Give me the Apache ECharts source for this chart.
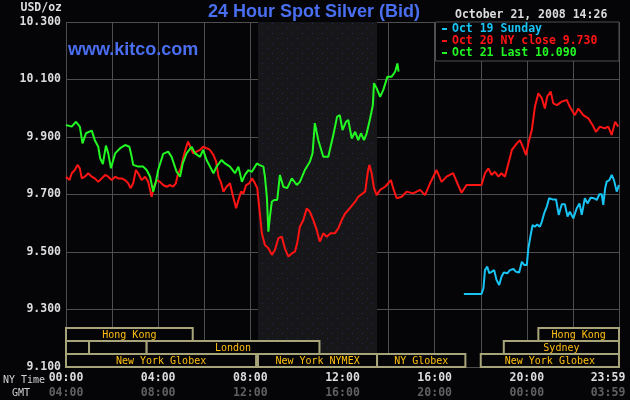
<!DOCTYPE html>
<html>
<head>
<meta charset="utf-8">
<script src="https://cdn.jsdelivr.net/npm/echarts@6/dist/echarts.min.js"></script>
<style>
  html, body { margin: 0; padding: 0; background: #050508; }
  #chart { width: 630px; height: 400px; }
</style>
</head>
<body>
<div id="chart"></div>
<script>
// times are minutes after midnight, New York time
const oct21Time = [0,15,26,36,43,52,67,75,84,89,96,104,110,117,128,141,154,165,171,175,188,201,210,219,227,234,240,253,266,275,288,297,304,314,327,336,349,357,366,375,384,392,405,414,427,440,449,458,466,475,484,497,503,514,518,523,527,531,536,542,550,557,566,576,588,601,609,622,635,642,648,657,670,683,696,706,713,720,729,735,744,753,761,768,776,783,792,799,802,809,818,826,837,848,857,863,866];
const oct21Value = [9.942,9.936,9.953,9.936,9.878,9.913,9.922,9.889,9.866,9.826,9.806,9.870,9.843,9.791,9.843,9.861,9.872,9.866,9.831,9.803,9.797,9.797,9.785,9.762,9.710,9.744,9.785,9.841,9.849,9.831,9.779,9.762,9.808,9.843,9.866,9.843,9.831,9.855,9.820,9.797,9.774,9.797,9.820,9.808,9.797,9.774,9.797,9.744,9.768,9.785,9.779,9.808,9.803,9.797,9.762,9.692,9.571,9.623,9.675,9.681,9.681,9.768,9.727,9.722,9.756,9.733,9.744,9.785,9.814,9.843,9.948,9.889,9.831,9.831,9.907,9.971,9.976,9.924,9.953,9.959,9.895,9.918,9.889,9.913,9.889,9.913,9.965,10.011,10.087,10.069,10.040,10.063,10.110,10.110,10.127,10.156,10.127];

const oct20Time = [0,9,15,23,30,36,41,49,58,67,75,84,93,102,110,119,128,136,145,154,162,168,175,182,188,197,206,214,223,229,236,245,253,262,271,279,286,292,299,305,312,318,325,331,340,349,357,366,375,384,391,397,403,410,418,427,434,443,449,456,462,469,477,485,492,498,503,510,518,527,536,544,553,562,570,579,588,596,602,609,618,627,635,644,653,661,670,679,689,700,709,718,727,735,753,761,766,779,786,790,796,802,809,818,831,839,846,852,861,874,887,904,922,935,948,965,978,991,1008,1021,1030,1043,1082,1091,1100,1108,1117,1126,1134,1143,1152,1161,1174,1182,1191,1198,1204,1213,1221,1230,1239,1247,1253,1262,1269,1278,1291,1304,1312,1325,1334,1347,1360,1371,1380,1390,1403,1412,1421,1430,1438];
const oct20Value = [9.762,9.750,9.774,9.785,9.803,9.791,9.756,9.762,9.774,9.762,9.756,9.744,9.756,9.768,9.762,9.750,9.762,9.756,9.756,9.750,9.739,9.722,9.739,9.785,9.774,9.750,9.762,9.744,9.692,9.727,9.750,9.744,9.733,9.727,9.733,9.727,9.739,9.774,9.791,9.826,9.861,9.884,9.861,9.843,9.849,9.855,9.866,9.861,9.855,9.837,9.814,9.762,9.744,9.710,9.727,9.739,9.698,9.652,9.681,9.710,9.704,9.733,9.739,9.756,9.739,9.722,9.658,9.565,9.524,9.513,9.490,9.507,9.548,9.553,9.513,9.484,9.495,9.501,9.530,9.588,9.611,9.652,9.640,9.611,9.576,9.536,9.565,9.553,9.565,9.565,9.582,9.611,9.634,9.646,9.675,9.692,9.698,9.710,9.779,9.803,9.774,9.722,9.698,9.716,9.727,9.739,9.750,9.722,9.687,9.692,9.710,9.704,9.716,9.698,9.739,9.785,9.744,9.762,9.774,9.733,9.706,9.733,9.733,9.774,9.791,9.768,9.779,9.762,9.774,9.762,9.808,9.855,9.878,9.889,9.861,9.837,9.878,9.924,10.005,10.052,10.035,9.999,10.040,10.058,10.017,10.011,10.023,10.029,10.005,9.976,9.999,9.976,9.965,9.942,9.918,9.936,9.930,9.936,9.907,9.953,9.936];

const oct19Time = [1036,1082,1087,1091,1097,1102,1108,1115,1121,1128,1134,1140,1149,1156,1165,1172,1180,1187,1193,1200,1204,1210,1215,1221,1227,1234,1239,1245,1252,1258,1267,1276,1283,1291,1299,1306,1312,1321,1330,1337,1343,1351,1358,1366,1375,1382,1389,1395,1399,1404,1408,1415,1421,1427,1434,1440];
const oct19Value = [9.354,9.354,9.374,9.437,9.449,9.426,9.431,9.437,9.403,9.385,9.414,9.429,9.426,9.437,9.441,9.431,9.429,9.466,9.455,9.455,9.513,9.559,9.594,9.588,9.596,9.588,9.605,9.634,9.658,9.687,9.683,9.683,9.629,9.666,9.666,9.623,9.640,9.617,9.652,9.669,9.629,9.687,9.669,9.689,9.687,9.681,9.701,9.701,9.664,9.722,9.745,9.750,9.768,9.750,9.710,9.733];

// trading sessions along the bottom (row 0 = lowest)
const sessionStart = [0, 1230, 0, 60, 210, 1140, 0, 500, 810, 1080];
const sessionEnd   = [330, 1440, 60, 210, 660, 1440, 495, 810, 1040, 1440];
const sessionRow   = [2, 2, 1, 1, 1, 1, 0, 0, 0, 0];
const sessionLabel = ['Hong Kong', 'Hong Kong', '', '', 'London', 'Sydney',
  'New York Globex', 'New York NYMEX', 'NY Globex', 'New York Globex'];

const nymexPit = [500, 810];
const seriesNames = ['Oct 19 Sunday', 'Oct 20 NY close 9.730', 'Oct 21 Last 10.090'];
const seriesColors = ['#18c4f4', '#ff1414', '#22f822'];

const MONO = '"DejaVu Sans Mono", monospace';
const SANS = '"Liberation Sans", Arial, sans-serif';

function zip(a, b) {
  return a.map((t, i) => [t, b[i]]);
}

function hhmm(min) {
  const h = Math.floor(min / 60) % 24;
  const m = min % 60;
  return String(h).padStart(2, '0') + ':' + String(m).padStart(2, '0');
}

// dotted fill for the NYMEX pit session
function pitPattern() {
  const c = document.createElement('canvas');
  c.width = 10; c.height = 10;
  const ctx = c.getContext('2d');
  ctx.fillStyle = '#17171a';
  ctx.fillRect(0, 0, 10, 10);
  ctx.fillStyle = '#1f2c5c';
  ctx.fillRect(2, 3, 1, 1);
  ctx.fillRect(7, 8, 1, 1);
  return c;
}

const chart = echarts.init(document.getElementById('chart'));

const lineSeries = [
  [oct19Time, oct19Value],
  [oct20Time, oct20Value],
  [oct21Time, oct21Value]
].map((pair, i) => ({
  name: seriesNames[i],
  type: 'line',
  data: zip(pair[0], pair[1]),
  showSymbol: false,
  animation: false,
  z: 3 + i,
  lineStyle: { color: seriesColors[i], width: 2 },
  itemStyle: { color: seriesColors[i] }
}));

const option = {
  backgroundColor: '#050508',
  animation: false,
  grid: { left: 66, top: 22, right: 11, bottom: 33, outerBoundsMode: 'none', containLabel: false },
  xAxis: {
    type: 'value',
    min: 0,
    max: 1440,
    interval: 120,
    axisLine: { show: false },
    axisTick: { show: false },
    splitLine: { lineStyle: { color: '#4e4e4e', width: 1 } },
    axisLabel: {
      margin: 4,
      showMaxLabel: true,
      showMinLabel: true,
      formatter: function (v) {
        if (v === 1440) return '{c|23:59}\n{d|03:59}';
        if (v % 240 !== 0) return '';
        return '{a|' + hhmm(v) + '}\n{b|' + hhmm(v + 240) + '}';
      },
      rich: {
        a: { color: '#dcdcdc', fontFamily: MONO, fontWeight: 'bold', fontSize: 11.5, lineHeight: 15 },
        b: { color: '#606060', fontFamily: MONO, fontWeight: 'bold', fontSize: 11.5, lineHeight: 15 },
        c: { color: '#dcdcdc', fontFamily: MONO, fontWeight: 'bold', fontSize: 11.5, lineHeight: 15, padding: [0, 22, 0, 0] },
        d: { color: '#606060', fontFamily: MONO, fontWeight: 'bold', fontSize: 11.5, lineHeight: 15, padding: [0, 22, 0, 0] }
      }
    }
  },
  yAxis: {
    type: 'value',
    min: 9.1,
    max: 10.3,
    interval: 0.1,
    axisLine: { show: false },
    axisTick: { show: false },
    splitLine: { lineStyle: { color: ['#4e4e4e', 'rgba(0,0,0,0)'], width: 1 } },
    axisLabel: {
      margin: 5,
      color: '#dcdcdc',
      fontFamily: MONO,
      fontWeight: 'bold',
      fontSize: 11.5,
      formatter: function (v) {
        return Math.round(v * 10) % 2 === 1 ? v.toFixed(3) : '';
      }
    }
  },
  legend: {
    data: seriesNames.map((n, i) => ({ name: n, textStyle: { color: seriesColors[i] } })),
    orient: 'vertical',
    left: 442,
    top: 23,
    padding: 0,
    itemGap: 0,
    itemWidth: 5,
    itemHeight: 2,
    icon: 'rect',
    selectedMode: false,
    z: 20,
    textStyle: { fontFamily: MONO, fontWeight: 'bold', fontSize: 11.5, lineHeight: 12 }
  },
  graphic: [
    { type: 'rect', z: 10, shape: { x: 435.5, y: 22, width: 183.5, height: 39 },
      style: { fill: '#050508', stroke: '#4e4e4e', lineWidth: 1 } },
    { type: 'text', z: 10, style: { text: 'USD/oz', x: 62, y: 8, align: 'right', verticalAlign: 'middle',
      fill: '#dcdcdc', font: 'bold 11.5px ' + MONO } },
    { type: 'text', z: 10, style: { text: '24 Hour Spot Silver (Bid)', x: 208, y: 12, verticalAlign: 'middle',
      fill: '#4a6ef0', font: 'bold 18px ' + SANS } },
    { type: 'text', z: 10, style: { text: 'October 21, 2008 14:26', x: 455, y: 15, verticalAlign: 'middle',
      fill: '#dcdcdc', font: 'bold 11.5px ' + MONO } },
    { type: 'text', z: 10, style: { text: 'www.kitco.com', x: 68, y: 50, verticalAlign: 'middle',
      fill: '#4a6ef0', font: 'bold 18px ' + SANS } },
    { type: 'text', z: 10, style: { text: 'NY Time', x: 3, y: 380, verticalAlign: 'middle',
      fill: '#d0d0d0', font: '10px ' + MONO } },
    { type: 'text', z: 10, style: { text: 'GMT', x: 12, y: 393, verticalAlign: 'middle',
      fill: '#d0d0d0', font: '10px ' + MONO } }
  ],
  series: [
    {
      name: 'nymex',
      type: 'line',
      data: [],
      z: -1,
      silent: true,
      markArea: {
        silent: true,
        itemStyle: { color: { image: pitPattern(), repeat: 'repeat' } },
        data: [[{ xAxis: nymexPit[0] }, { xAxis: nymexPit[1] }]]
      }
    },
    ...lineSeries,
    {
      name: 'sessions',
      type: 'custom',
      z: 8,
      silent: true,
      data: sessionStart.map((s, i) => [s, sessionEnd[i], sessionRow[i]]),
      renderItem: function (params, api) {
        const x0 = api.coord([api.value(0), 9.1])[0];
        const x1 = api.coord([api.value(1), 9.1])[0];
        const yb = api.coord([0, 9.1])[1];
        const h = 13;
        const y = yb - (api.value(2) + 1) * h;
        return {
          type: 'group',
          children: [
            { type: 'rect', shape: { x: x0, y: y, width: x1 - x0, height: h },
              style: { fill: '#050508', stroke: '#a8a47a', lineWidth: 2 } },
            { type: 'text', style: { text: sessionLabel[params.dataIndex], x: (x0 + x1) / 2, y: y + h / 2 + 0.5,
              align: 'center', verticalAlign: 'middle', fill: '#ffc010', font: '10px ' + MONO } }
          ]
        };
      }
    }
  ]
};

chart.setOption(option);
</script>
</body>
</html>
